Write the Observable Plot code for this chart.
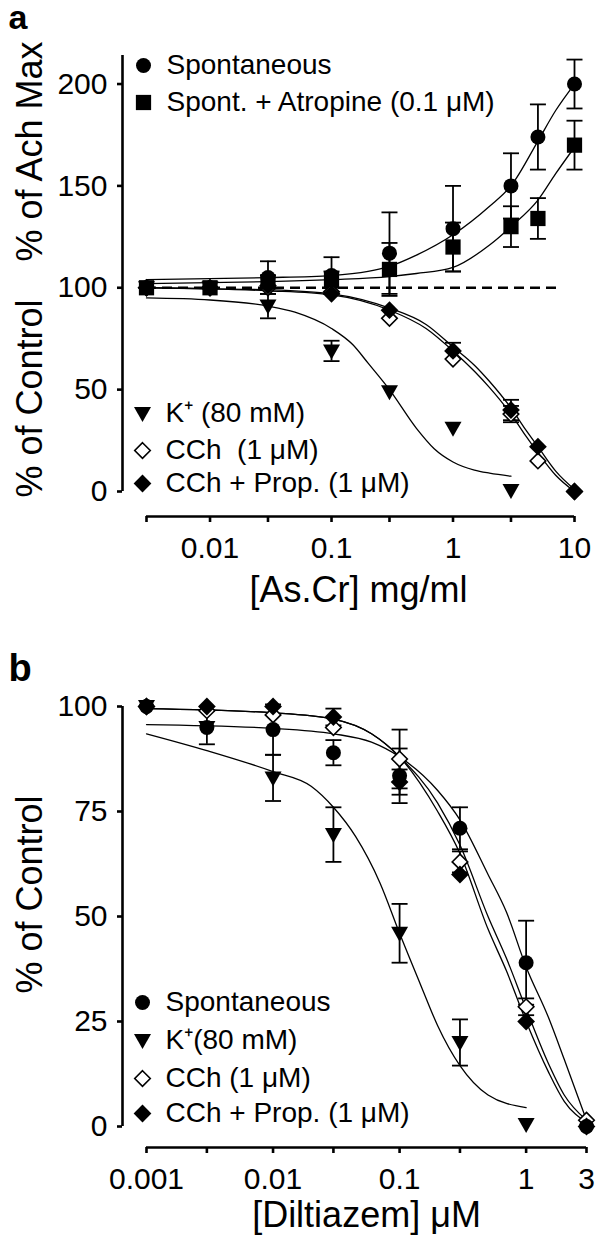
<!DOCTYPE html>
<html>
<head>
<meta charset="utf-8">
<script src="https://cdn.jsdelivr.net/npm/d3@7"></script>
<script src="https://cdn.jsdelivr.net/npm/@observablehq/plot@0.6"></script>
<style>
  html, body { margin: 0; padding: 0; background: #fff; }
  #chart svg { display: block; }
</style>
</head>
<body>
<div id="chart"></div>
<script>
// ---------- Panel a data ----------
const aX = [0.003, 0.01, 0.03, 0.1, 0.3, 1, 3, 5, 10];
const aSpont = [100, 100, 105, 106, 117, 129, 150, 174, 200];
const aSpontErr = [0, 0, 8, 9, 20, 21, 16, 16, 12];
const aAtro = [100, 100, 103, 104, 109, 120, 130, 134, 170];
const aAtroErr = [0, 0, 3, 4, 13, 12, 10, 10, 12];
const aKX = [0.003, 0.01, 0.03, 0.1, 0.3, 1, 3];
const aK = [100, 100, 91, 69, 49, 31, 0.5];
const aKErr = [0, 0, 6, 5, 0, 0, 0];
const aCCh = [100, 100, 100, 98, 85, 65, 38, 15, 0];
const aCChErr = [0, 0, 0, 0, 0, 0, 4, 0, 0];
const aProp = [100, 100, 101, 97, 89, 69, 40, 22, 0];
const aPropErr = [0, 0, 0, 0, 0, 4, 5, 0, 0];

const aSpontCurveX = [0.003, 0.01, 0.03, 0.1, 0.2, 0.3, 0.5, 1, 2, 3, 5, 7, 10];
const aSpontCurveY = [104, 104.5, 105, 106, 108, 110.5, 116, 126, 140, 150, 172, 187, 200];
const aAtroCurveX = [0.003, 0.01, 0.03, 0.1, 0.3, 0.5, 1, 2, 3, 5, 7, 10];
const aAtroCurveY = [102, 102.5, 103, 104, 105.5, 107, 110, 121, 130, 143, 156, 169];
const aKCurveX = [0.003, 0.01, 0.03, 0.05, 0.1, 0.15, 0.2, 0.3, 0.5, 0.7, 1, 1.5, 2, 3];
const aKCurveY = [95, 94, 91, 88, 80, 72, 63, 50, 31, 21, 14.5, 10.5, 9, 7.5];
const aCChCurveX = [0.003, 0.01, 0.03, 0.1, 0.3, 0.6, 1, 1.5, 2, 3, 4, 5, 7, 10];
const aCChCurveY = [100, 99.5, 98.5, 96.5, 89, 80, 69, 59, 51, 38, 27, 19, 8, 0];
const aPropCurveY = [100, 99.5, 99, 97, 90, 82, 71, 62, 54, 41, 30, 22, 10, 1];
const aDashX = [0.003, 7.5];
const aDashY = 100;

const aXTicks = [0.003, 0.01, 0.03, 0.1, 0.3, 1, 3, 10];
const aXTickLabels = ["", "0.01", "", "0.1", "", "1", "", "10"];
const aYTicks = [0, 50, 100, 150, 200];
const aYMax = 214;

// ---------- Panel b data ----------
const bX = [0.001, 0.003, 0.01, 0.03, 0.1, 0.3, 1, 3];
const bSpont = [100, 95, 94.5, 89, 83.5, 71, 39, 0];
const bSpontErr = [0, 0, 6, 3, 6.5, 5, 10, 0];
const bKX = [0.001, 0.003, 0.01, 0.03, 0.1, 0.3, 1];
const bK = [100, 95, 83, 69.5, 46, 20, 0.5];
const bKErr = [0, 4, 5.5, 6.5, 7, 5.5, 0];
const bCCh = [100, 99, 98, 95, 87.5, 63, 28.5, 1.5];
const bCChErr = [0, 0, 0, 0, 7, 2.5, 2, 0];
const bProp = [100, 100, 100, 97.5, 82, 60, 25, 0];
const bPropErr = [0, 0, 0, 2, 3, 0, 0, 0];

const bSpontCurveX = [0.001, 0.01, 0.03, 0.06, 0.1, 0.2, 0.3, 0.5, 0.7, 1, 1.5, 2, 3];
const bSpontCurveY = [95.7, 94.8, 93.5, 91.5, 88, 80, 73, 60, 51, 38, 26, 16, 1.5];
const bKCurveX = [0.001, 0.003, 0.01, 0.02, 0.03, 0.045, 0.07, 0.1, 0.15, 0.2, 0.3, 0.5, 1];
const bKCurveY = [93.5, 89.5, 84.5, 81, 76, 69, 58, 46, 33, 24, 14.5, 7.5, 4.5];
const bCChCurveX = [0.001, 0.01, 0.03, 0.06, 0.1, 0.2, 0.3, 0.5, 0.7, 1, 1.5, 2, 3];
const bCChCurveY = [99.5, 98.5, 97, 93.5, 88, 77, 67, 50, 40, 28, 15, 7.5, 1.5];
const bPropCurveY = [99.5, 98.5, 97, 93.5, 88, 75, 65, 47, 37, 25, 13, 6, 1];

const bXTicks = [0.001, 0.003, 0.01, 0.03, 0.1, 0.3, 1, 3];
const bXTickLabels = ["0.001", "", "0.01", "", "0.1", "", "1", "3"];
const bYTicks = [0, 25, 50, 75, 100];
const bYMax = 100;

// ---------- helpers ----------
const FONT = "'Liberation Sans', Arial, Helvetica, sans-serif";
const pts = (xs, ys, es) => xs.map((x, i) => ({x, y: ys[i], e: es ? es[i] : 0}));

const capSym = {draw(ctx) { ctx.moveTo(-8, 0); ctx.lineTo(8, 0); }};
const triDown = {draw(ctx) { ctx.moveTo(-8.5, -6.5); ctx.lineTo(8.5, -6.5); ctx.lineTo(0, 8.5); ctx.closePath(); }};

const SYM = {
  circle: {symbol: "circle", r: 7.5, fill: "black"},
  square: {symbol: "square", r: 8.6, fill: "black"},
  tri: {symbol: triDown, r: 6, fill: "black"},
  diamondOpen: {symbol: "diamond2", r: 7, fill: "white", stroke: "black", strokeWidth: 1.6},
  diamond: {symbol: "diamond2", r: 8, fill: "black"}
};

function errMarks(data) {
  const d = data.filter(p => p.e > 0);
  return [
    Plot.ruleX(d, {x: "x", y1: p => p.y - p.e, y2: p => p.y + p.e, strokeWidth: 1.8, stroke: "black"}),
    Plot.dot(d, {x: "x", y: p => p.y + p.e, symbol: capSym, r: 1, stroke: "black", strokeWidth: 1.8}),
    Plot.dot(d, {x: "x", y: p => p.y - p.e, symbol: capSym, r: 1, stroke: "black", strokeWidth: 1.8})
  ];
}
function curveMark(xs, ys) {
  return Plot.line(pts(xs, ys), {x: "x", y: "y", curve: "monotone-x", stroke: "black", strokeWidth: 1.3});
}
function dotMark(data, sty) {
  return Plot.dot(data, {x: "x", y: "y", ...sty});
}
function legendEntry(label, sty, anchor, dx, dy, fontSize) {
  return [
    Plot.dot([label], {x: null, y: null, frameAnchor: anchor, dx, dy, ...sty}),
    Plot.text([label], {x: null, y: null, frameAnchor: anchor, dx: dx + 23, dy, text: d => d,
      textAnchor: "start", lineAnchor: "middle", fontSize, fill: "black"})
  ];
}
function axisMarks(xTicks, xLabels, yTicks, yTop, xDomain, xAxisDy, tickFont) {
  const lab = new Map(xTicks.map((t, i) => [t, xLabels[i]]));
  return [
    Plot.ruleX([xDomain[0]], {y1: 0, y2: yTop, dx: -24, strokeWidth: 2.6, stroke: "black"}),
    Plot.ruleY([0], {x1: xDomain[0], x2: xDomain[1], dy: xAxisDy, strokeWidth: 2.6, stroke: "black"}),
    Plot.axisY({ticks: yTicks, tickSize: 5, tickPadding: 10, strokeWidth: 2.6, fontSize: tickFont, label: null, anchor: "left"}),
    Plot.axisX({ticks: xTicks, tickFormat: d => lab.get(d) ?? "", tickSize: 6, tickPadding: 14, strokeWidth: 2.6, fontSize: tickFont, label: null, anchor: "bottom"})
  ];
}

// ---------- Panel a ----------
const aSp = pts(aX, aSpont, aSpontErr);
const aAt = pts(aX, aAtro, aAtroErr);
const aKp = pts(aKX, aK, aKErr);
const aCc = pts(aX, aCCh, aCChErr);
const aPr = pts(aX, aProp, aPropErr);

const plotA = Plot.plot({
  width: 600, height: 620,
  marginLeft: 122, marginRight: 26, marginTop: 55, marginBottom: 104,
  style: {fontFamily: FONT, color: "black", background: "white", overflow: "visible"},
  x: {type: "log", domain: [0.003, 10], range: [146, 574]},
  y: {domain: [0, aYMax], range: [491, 55]},
  marks: [
    ...axisMarks(aXTicks, aXTickLabels, aYTicks, aYMax, [0.003, 10], 25, 30),
    Plot.ruleY([aDashY], {x1: aDashX[0], x2: aDashX[1], strokeDasharray: "10,6", strokeWidth: 2.4, stroke: "black"}),
    curveMark(aSpontCurveX, aSpontCurveY),
    curveMark(aAtroCurveX, aAtroCurveY),
    curveMark(aKCurveX, aKCurveY),
    curveMark(aCChCurveX, aCChCurveY),
    curveMark(aCChCurveX, aPropCurveY),
    ...errMarks(aSp), ...errMarks(aAt), ...errMarks(aKp), ...errMarks(aCc), ...errMarks(aPr),
    dotMark(aSp, SYM.circle),
    dotMark(aKp, SYM.tri),
    dotMark(aCc, SYM.diamondOpen),
    dotMark(aPr, SYM.diamond),
    dotMark(aAt, SYM.square),
    ...legendEntry("Spontaneous", SYM.circle, "top-left", 21, 10, 28),
    ...legendEntry("Spont. + Atropine (0.1 μM)", SYM.square, "top-left", 21, 47, 28),
    ...legendEntry("K⁺ (80 mM)", SYM.tri, "bottom-left", 20, -103, 28),
    ...legendEntry("CCh  (1 μM)", SYM.diamondOpen, "bottom-left", 20, -66, 28),
    ...legendEntry("CCh + Prop. (1 μM)", SYM.diamond, "bottom-left", 20, -33, 28),
    Plot.text(["a"], {x: null, y: null, frameAnchor: "top-left", dx: -114, dy: -37, text: d => d,
      textAnchor: "start", lineAnchor: "middle", fontSize: 34, fontWeight: "bold"}),
    Plot.text(["% of Ach Max"], {x: null, y: null, frameAnchor: "top-left", dx: -92, dy: 96, rotate: -90,
      text: d => d, textAnchor: "middle", lineAnchor: "middle", fontSize: 36}),
    Plot.text(["% of Control"], {x: null, y: null, frameAnchor: "top-left", dx: -92, dy: 343, rotate: -90,
      text: d => d, textAnchor: "middle", lineAnchor: "middle", fontSize: 36}),
    Plot.text(["[As.Cr] mg/ml"], {x: null, y: null, frameAnchor: "bottom", dx: 10, dy: 74,
      text: d => d, textAnchor: "middle", lineAnchor: "middle", fontSize: 36})
  ]
});

// ---------- Panel b ----------
const bSp = pts(bX, bSpont, bSpontErr);
const bKp = pts(bKX, bK, bKErr);
const bCc = pts(bX, bCCh, bCChErr);
const bPr = pts(bX, bProp, bPropErr);

const plotB = Plot.plot({
  width: 600, height: 624,
  marginLeft: 122, marginRight: 14, marginTop: 86, marginBottom: 97,
  style: {fontFamily: FONT, color: "black", background: "white", overflow: "visible"},
  x: {type: "log", domain: [0.001, 3], range: [146, 586]},
  y: {domain: [0, bYMax], range: [506, 86]},
  marks: [
    ...axisMarks(bXTicks, bXTickLabels, bYTicks, bYMax, [0.001, 3], 21, 30),
    curveMark(bSpontCurveX, bSpontCurveY),
    curveMark(bKCurveX, bKCurveY),
    curveMark(bCChCurveX, bCChCurveY),
    curveMark(bCChCurveX, bPropCurveY),
    ...errMarks(bSp), ...errMarks(bKp), ...errMarks(bCc), ...errMarks(bPr),
    dotMark(bCc, SYM.diamondOpen),
    dotMark(bPr, SYM.diamond),
    dotMark(bSp, SYM.circle),
    dotMark(bKp, SYM.tri),
    ...legendEntry("Spontaneous", SYM.circle, "bottom-left", 20, -145, 28),
    ...legendEntry("K⁺(80 mM)", SYM.tri, "bottom-left", 20, -107, 28),
    ...legendEntry("CCh (1 μM)", SYM.diamondOpen, "bottom-left", 20, -69, 28),
    ...legendEntry("CCh + Prop. (1 μM)", SYM.diamond, "bottom-left", 20, -34, 28),
    Plot.text(["b"], {x: null, y: null, frameAnchor: "top-left", dx: -114, dy: -38, text: d => d,
      textAnchor: "start", lineAnchor: "middle", fontSize: 38, fontWeight: "bold"}),
    Plot.text(["% of Control"], {x: null, y: null, frameAnchor: "top-left", dx: -92, dy: 188, rotate: -90,
      text: d => d, textAnchor: "middle", lineAnchor: "middle", fontSize: 36}),
    Plot.text(["[Diltiazem] μM"], {x: null, y: null, frameAnchor: "bottom", dx: 12, dy: 68,
      text: d => d, textAnchor: "middle", lineAnchor: "middle", fontSize: 36})
  ]
});

const root = document.getElementById("chart");
root.appendChild(plotA);
root.appendChild(plotB);
</script>
</body>
</html>
